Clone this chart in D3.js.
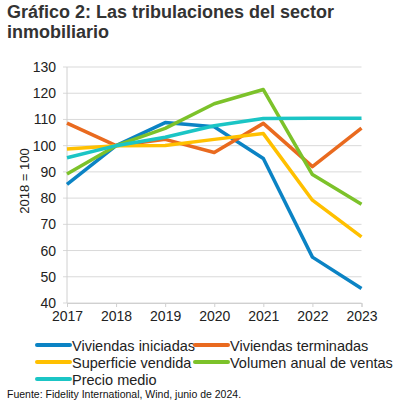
<!DOCTYPE html>
<html>
<head>
<meta charset="utf-8">
<script src="https://cdn.jsdelivr.net/npm/d3@7"></script>
<style>
body { margin: 0; background: #fff; }
svg { font-family: "Liberation Sans", Arial, sans-serif; }
</style>
</head>
<body>
<svg id="chart" width="398" height="417"></svg>
<script>
// data
var years = [2017, 2018, 2019, 2020, 2021, 2022, 2023];
var iniciadas = [85.2, 100, 108.8, 107.2, 95.1, 57.5, 45.5];
var terminadas = [108.6, 100, 102.4, 97.4, 108.5, 92, 106.7];
var superficie = [98.7, 100, 100.1, 102.4, 104.6, 79.2, 65.2];
var volumen = [89.2, 100, 106.6, 116, 121.4, 89, 77.7];
var precio = [95.4, 100, 103.2, 107.6, 110.4, 110.5, 110.5];
var yTicks = [40, 50, 60, 70, 80, 90, 100, 110, 120, 130];

var series = [
	{name: "Viviendas iniciadas", values: iniciadas, color: "#0b83c4"},
	{name: "Viviendas terminadas", values: terminadas, color: "#e96a1f"},
	{name: "Superficie vendida", values: superficie, color: "#ffc000"},
	{name: "Volumen anual de ventas", values: volumen, color: "#7cc22a"},
	{name: "Precio medio", values: precio, color: "#1bc5c5"}
];

var svg = d3.select("#chart");

//title
svg.append("text").attr("x", 7).attr("y", 18)
	.style("font-size", "18px").style("font-weight", "bold").style("fill", "#333")
	.text("Gráfico 2: Las tribulaciones del sector");
svg.append("text").attr("x", 7).attr("y", 38)
	.style("font-size", "18px").style("font-weight", "bold").style("fill", "#333")
	.text("inmobiliario");

var x = d3.scalePoint().domain(years).range([67, 361.5]);
var y = d3.scaleLinear().domain([40, 130]).range([303, 67]);

//grid
svg.append("g").selectAll("line").data(yTicks).enter().append("line")
	.attr("x1", 63).attr("x2", 361.5)
	.attr("y1", function (d) { return y(d); })
	.attr("y2", function (d) { return y(d); })
	.style("stroke", "#d9d9d9").style("stroke-width", 1);

//y axis line
svg.append("line").attr("x1", 67).attr("x2", 67).attr("y1", y(130)).attr("y2", y(40))
	.style("stroke", "#d0d0d0");

//y labels
svg.append("g").selectAll("text").data(yTicks).enter().append("text")
	.attr("x", 56).attr("y", function (d) { return y(d) + 5; })
	.attr("text-anchor", "end")
	.style("font-size", "14px").style("fill", "#222")
	.text(function (d) { return d; });

//x axis
var xAxis = d3.axisBottom(x).tickSize(4).tickPadding(4);
var gx = svg.append("g").attr("transform", "translate(0," + y(40) + ")").call(xAxis);
gx.select(".domain").style("stroke", "#d0d0d0");
gx.selectAll(".tick line").style("stroke", "#d0d0d0");
gx.selectAll("text").style("font-size", "14px").style("fill", "#222")
	.style("font-family", "Liberation Sans, Arial, sans-serif");

//y title
svg.append("text").attr("transform", "translate(29,181) rotate(-90)")
	.attr("text-anchor", "middle")
	.style("font-size", "13px").style("fill", "#222")
	.text("2018 = 100");

//lines
var line = d3.line()
	.x(function (d, i) { return x(years[i]); })
	.y(function (d) { return y(d); });

svg.append("g").selectAll("path").data(series).enter().append("path")
	.attr("d", function (d) { return line(d.values); })
	.style("fill", "none")
	.style("stroke", function (d) { return d.color; })
	.style("stroke-width", 3.5)
	.style("stroke-linejoin", "round");

//legend
var legPos = [[37, 345], [195, 345], [37, 362], [195, 362], [37, 379]];
var leg = svg.append("g").selectAll("g").data(series).enter().append("g")
	.attr("transform", function (d, i) { return "translate(" + legPos[i][0] + "," + legPos[i][1] + ")"; });
leg.append("line").attr("x1", 0).attr("x2", 33).attr("y1", 0).attr("y2", 0)
	.style("stroke", function (d) { return d.color; })
	.style("stroke-width", 4).style("stroke-linecap", "round");
leg.append("text").attr("x", 35).attr("y", 5.5)
	.style("font-size", "14.5px").style("fill", "#222")
	.text(function (d) { return d.name; });

//source
svg.append("text").attr("x", 7).attr("y", 398)
	.style("font-size", "10.5px").style("fill", "#111")
	.text("Fuente: Fidelity International, Wind, junio de 2024.");
</script>
</body>
</html>
